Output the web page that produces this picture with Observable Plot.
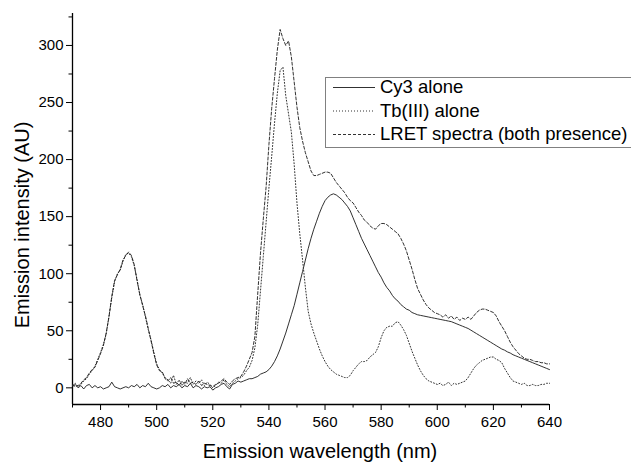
<!DOCTYPE html>
<html>
<head>
<meta charset="utf-8">
<script src="https://cdn.jsdelivr.net/npm/d3@7"></script>
<script src="https://cdn.jsdelivr.net/npm/@observablehq/plot@0.6"></script>
<style>
  html, body { margin: 0; padding: 0; background: #fff; }
  #chart { width: 631px; height: 462px; overflow: hidden; }
</style>
</head>
<body>
<div id="chart"></div>
<script>
// Wavelengths (nm), 470..640 in 1 nm steps
const wavelength = d3.range(470, 641, 1);

// Cy3 alone (solid)
const cy3 = [
  1, 3, 0, 2, -1, 2, 3, 0, 2, 0,            // 470-479
  1, -1, 0, 1, 5, 1, 0, -1, 0, 1,           // 480-489
  0, 2, 1, 3, 0, 2, 1, 4, 1, 0,             // 490-499
  -1, 0, 2, 1, 3, 0, 2, 1, 3, 0,            // 500-509
  2, 1, 4, 0, 2, 1, -1, 1, 0, 1,            // 510-519
  -2, 0, 1, 3, 4, 1, -1, 3, 4, 6,           // 520-529
  5, 6, 7, 8, 8, 9, 10, 12, 13, 14,         // 530-539
  16, 19, 23, 28, 34, 41, 48, 56, 64, 72,   // 540-549
  82, 92, 102, 112, 122, 131, 139, 146, 153, 159, // 550-559
  164, 167, 169, 170, 169, 167, 165, 162, 159, 155, // 560-569
  149, 143, 137, 131, 126, 121, 116, 111, 106, 101, // 570-579
  97, 92, 88, 85, 81, 78, 76, 73, 71, 69,   // 580-589
  68, 66, 65, 64, 63.5, 63, 62.5, 62, 61.5, 61, // 590-599
  60.5, 60, 59.5, 59, 58.5, 58, 57, 56, 55, 54, // 600-609
  53, 52, 50.5, 49, 47.5, 46, 44.5, 43, 41.5, 40, // 610-619
  38.5, 37, 35.5, 34, 33, 31.5, 30.5, 29, 28, 27, // 620-629
  26, 25, 24, 23, 22, 21, 20, 19, 18, 17,   // 630-639
  16                                        // 640
];

// Tb(III) alone (dotted)
const tb = [
  2, 4, 1, 3, 6, 8, 12, 15, 19, 25,         // 470-479
  31, 38, 47, 63, 79, 93, 100, 103, 111, 117, // 480-489
  118, 115, 107, 95, 81, 73, 62, 51, 42, 31, // 490-499
  21, 16, 13, 9, 7, 4, 11, 3, 7, 2,         // 500-509
  5, 4, 9, 3, 6, 4, 7, 2, 5, 3,             // 510-519
  0, 2, 5, 4, 7, 3, 1, 4, 6, 8,             // 520-529
  9, 11, 15, 18, 24, 35, 55, 85, 115, 145,  // 530-539
  175, 203, 232, 258, 278, 281, 256, 240, 224, 196, // 540-549
  162, 135, 112, 88, 67, 56, 48, 41, 34, 28, // 550-559
  23, 19, 16, 14, 12, 11, 10, 9, 9, 11,     // 560-569
  15, 18, 21, 23, 23, 24, 27, 29, 31, 36,   // 570-579
  44, 50, 53, 54, 54, 57, 58, 55, 51, 46,   // 580-589
  39, 32, 26, 20, 15, 11, 8, 6, 5, 4,       // 590-599
  3, 4, 2, 3, 5, 2, 4, 3, 4, 5,             // 600-609
  6, 9, 13, 17, 20, 22, 24, 25, 26, 27,     // 610-619
  27, 25, 24, 22, 17, 13, 9, 6, 5, 4,       // 620-629
  3, 4, 2, 2, 3, 2, 2, 3, 3, 4,             // 630-639
  4                                         // 640
];

// LRET spectra (both presence) (dashed)
const lret = [
  3, 1, 2, 4, 7, 9, 13, 16, 18, 24,         // 470-479
  30, 37, 48, 62, 80, 94, 99, 104, 112, 116, // 480-489
  119, 116, 108, 94, 82, 72, 63, 52, 41, 30, // 490-499
  20, 15, 14, 8, 6, 9, 4, 5, 2, 6,          // 500-509
  3, 8, 4, 5, 3, 6, 2, 4, 3, 2,             // 510-519
  1, 3, 4, 6, 8, 5, 3, 6, 8, 9,             // 520-529
  10, 14, 19, 25, 31, 45, 82, 118, 148, 176, // 530-539
  213, 245, 271, 296, 314, 306, 300, 304, 290, 268, // 540-549
  246, 228, 216, 206, 198, 190, 186, 186, 187, 188, // 550-559
  189, 189, 188, 184, 180, 177, 174, 171, 167, 164, // 560-569
  162, 158, 154, 151, 147, 145, 142, 140, 139, 142, // 570-579
  144, 144, 143, 141, 139, 137, 135, 131, 126, 120, // 580-589
  112, 104, 95, 87, 82, 77, 73, 70, 68, 66, // 590-599
  65, 64, 62, 64, 61, 63, 60, 62, 59, 61,   // 600-609
  60, 62, 60, 63, 66, 68, 69, 69, 68, 67,   // 610-619
  66, 63, 58, 54, 50, 45, 40, 36, 33, 30,   // 620-629
  28, 26, 25, 25, 24, 23, 23, 22, 22, 21,   // 630-639
  21                                        // 640
];

const seriesNames = ["Cy3 alone", "Tb(III) alone", "LRET spectra (both presence)"];
const xTicks = [480, 500, 520, 540, 560, 580, 600, 620, 640];
const xMinorTicks = [470, 490, 510, 530, 550, 570, 590, 610, 630];
const yTicks = [0, 50, 100, 150, 200, 250, 300];
const yMinorTicks = [25, 75, 125, 175, 225, 275, 325];
const xTitle = "Emission wavelength (nm)";
const yTitle = "Emission intensity (AU)";

const xDomain = [470, 640];
const yDomain = [-14.6, 328];

const rows = wavelength.map((w, i) => ({w, cy3: cy3[i], tb: tb[i], lret: lret[i]}));

const font = "'Liberation Sans', Arial, Helvetica, sans-serif";
const styles = [
  {key: "cy3", dash: null, width: 0.9, color: "#1a1a1a"},
  {key: "tb", dash: "1,2", width: 1, color: "#333"},
  {key: "lret", dash: "3,2", width: 0.9, color: "#1a1a1a"}
];

const chart = Plot.plot({
  width: 631,
  height: 462,
  marginLeft: 72,
  marginRight: 82,
  marginTop: 13,
  marginBottom: 58,
  style: {fontFamily: font, fontSize: "15px", color: "#000", background: "#fff", overflow: "visible"},
  x: {domain: xDomain},
  y: {domain: yDomain},
  marks: [
    Plot.axisX({ticks: xTicks, tickSize: 6, tickPadding: 6, label: null, fontSize: 15, stroke: "#000"}),
    Plot.axisX({ticks: xMinorTicks, tickSize: 3.5, tickFormat: () => "", label: null, stroke: "#000"}),
    Plot.axisY({ticks: yTicks, tickSize: 6, tickPadding: 3, label: null, fontSize: 15, stroke: "#000"}),
    Plot.axisY({ticks: yMinorTicks, tickSize: 3.5, tickFormat: () => "", label: null, stroke: "#000"}),
    Plot.ruleX([xDomain[0]], {y1: yDomain[0], y2: yDomain[1], stroke: "#000", strokeWidth: 1.3}),
    Plot.ruleY([yDomain[0]], {x1: xDomain[0], x2: xDomain[1], stroke: "#000", strokeWidth: 1.3}),
    ...styles.map(s => Plot.line(rows, {
      x: "w", y: s.key, stroke: s.color, strokeWidth: s.width,
      strokeDasharray: s.dash, curve: "linear"
    })),
    Plot.text([xTitle], {frameAnchor: "bottom", lineAnchor: "middle", textAnchor: "middle", dx: 9, dy: 47, fontSize: 20, fill: "#000", fontFamily: font}),
    Plot.text([yTitle], {frameAnchor: "left", lineAnchor: "middle", textAnchor: "middle", dx: -50, dy: 16, rotate: -90, fontSize: 20, fill: "#000", fontFamily: font})
  ]
});

document.getElementById("chart").appendChild(chart);

// Legend (box clipped at the right edge as in the reference)
const svg = d3.select(chart);
const lg = svg.append("g").attr("class", "legend").attr("text-anchor", "start");
const box = {x: 325.5, y: 77.5, w: 320, h: 70};
lg.append("rect").attr("x", box.x).attr("y", box.y).attr("width", box.w).attr("height", box.h)
  .attr("fill", "#fff").attr("stroke", "#808080").attr("stroke-width", 1);
const rowY = [87, 110.5, 134];
seriesNames.forEach((name, i) => {
  const s = styles[i];
  lg.append("line").attr("x1", 333).attr("x2", 375).attr("y1", rowY[i] + 0.5).attr("y2", rowY[i] + 0.5)
    .attr("stroke", s.color).attr("stroke-width", s.width)
    .attr("stroke-dasharray", s.dash);
  lg.append("text").attr("x", 380).attr("y", rowY[i]).attr("dy", "0.35em")
    .attr("text-anchor", "start")
    .attr("font-family", font).attr("font-size", 18.5).attr("fill", "#000").text(name);
});
</script>
</body>
</html>
